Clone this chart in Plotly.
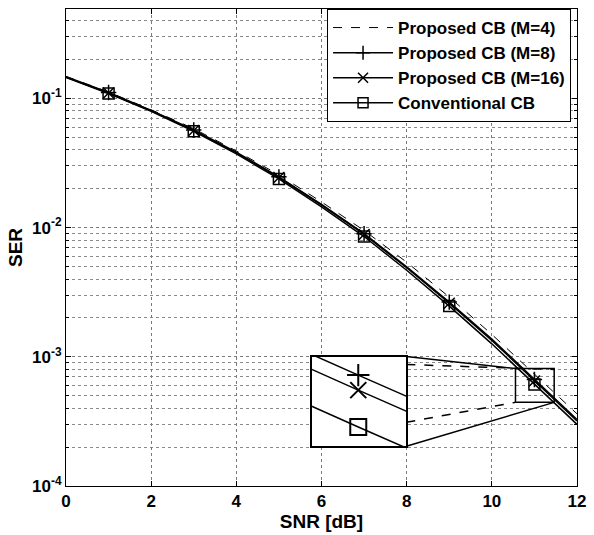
import plotly.graph_objects as go

# ---------------- data ----------------
snr = [0, 1, 2, 3, 4, 5, 6, 7, 8, 9, 10, 11, 12]
snr_markers = [1, 3, 5, 7, 9, 11]

ser_m4 = [0.148, 0.112, 0.0817, 0.0583, 0.0392, 0.0256, 0.0158, 0.0095, 0.0054, 0.00290, 0.00149, 7.3e-4, 3.62e-4]
ser_m8 = [0.147, 0.111, 0.0808, 0.0570, 0.0383, 0.0247, 0.0151, 0.00898, 0.00497, 0.00265, 0.00137, 6.67e-4, 3.27e-4]
ser_m16 = [0.146, 0.110, 0.0802, 0.0565, 0.0379, 0.0244, 0.0149, 0.00885, 0.00489, 0.00260, 0.00134, 6.50e-4, 3.19e-4]
ser_conv = [0.145, 0.109, 0.0794, 0.0557, 0.0372, 0.0238, 0.01445, 0.00853, 0.00468, 0.00247, 0.00126, 6.10e-4, 3.00e-4]

names = ["Proposed CB (M=4)", "Proposed CB (M=8)", "Proposed CB (M=16)", "Conventional CB"]
y_tick_vals = [1e-4, 1e-3, 1e-2, 1e-1]
y_tick_text = ["10<sup>-4</sup>", "10<sup>-3</sup>", "10<sup>-2</sup>", "10<sup>-1</sup>"]
x_tick_vals = [0, 2, 4, 6, 8, 10, 12]

# ---------------- styling ----------------
FONT = "Liberation Sans, Arial, sans-serif"
series = [
    (names[0], ser_m4, "dash", None),
    (names[1], ser_m8, "solid", "cross-thin-open"),
    (names[2], ser_m16, "solid", "x-thin-open"),
    (names[3], ser_conv, "solid", "square-open"),
]

fig = go.Figure()


def pick(xs, ys, keep):
    return [y for x, y in zip(xs, ys) if x in keep]


for name, ys, dash, sym in series:
    width = 1 if dash == "dash" else 1.5
    fig.add_trace(go.Scatter(x=snr, y=ys, mode="lines", showlegend=False,
                             line=dict(color="black", width=width, dash=dash),
                             xaxis="x", yaxis="y"))
    if sym:
        fig.add_trace(go.Scatter(x=snr_markers, y=pick(snr, ys, snr_markers), mode="markers",
                                 showlegend=False,
                                 marker=dict(symbol=sym, size=11, color="black",
                                             line=dict(color="black", width=1.5)),
                                 xaxis="x", yaxis="y"))
    fig.add_trace(go.Scatter(x=[None], y=[None], name=name,
                             mode="lines+markers" if sym else "lines",
                             line=dict(color="black", width=width, dash=dash),
                             marker=dict(symbol=sym or "circle", size=10, color="black",
                                         line=dict(color="black", width=1.5)),
                             xaxis="x", yaxis="y"))

# inset (magnified view around SNR = 11 dB)
for name, ys, dash, sym in series[1:]:
    fig.add_trace(go.Scatter(x=snr, y=ys, mode="lines", showlegend=False,
                             line=dict(color="black", width=1.5),
                             xaxis="x2", yaxis="y2"))
    fig.add_trace(go.Scatter(x=snr_markers, y=pick(snr, ys, snr_markers), mode="markers",
                             showlegend=False,
                             marker=dict(symbol=sym, size=16, color="black",
                                         line=dict(color="black", width=2)),
                             xaxis="x2", yaxis="y2"))

# ---------------- layout ----------------
L, R, T, B = 66, 13, 8, 48
W, H = 594, 535
PW, PH = W - L - R, H - T - B


def px(xp):
    return (xp - L) / PW


def py(yp):
    return (H - B - yp) / PH


minor_vals = [m * 10.0 ** e for e in range(-4, 0) for m in range(2, 10)]
tickfont = dict(family=FONT, size=17, color="black", weight="bold")
titlefont = dict(family=FONT, size=19, color="black", weight="bold")

inset_x = [px(314), px(409)]
inset_y = [py(447), py(357)]

fig.update_layout(
    width=W, height=H,
    margin=dict(l=L, r=R, t=T, b=B),
    paper_bgcolor="white", plot_bgcolor="white",
    font=dict(family=FONT, color="black"),
    xaxis=dict(range=[0, 12], tickvals=x_tick_vals, tickfont=tickfont,
               showgrid=True, gridcolor="#7a7a7a", griddash="dot", gridwidth=1,
               showline=True, linecolor="black", linewidth=1, mirror="allticks",
               ticks="inside", ticklen=5, tickcolor="black", zeroline=False,
               title=dict(text="SNR [dB]", font=titlefont, standoff=2)),
    yaxis=dict(type="log", range=[-4, -0.308], tickvals=y_tick_vals, ticktext=y_tick_text,
               tickfont=tickfont,
               showgrid=True, gridcolor="#7a7a7a", griddash="dot", gridwidth=1,
               minor=dict(tickvals=minor_vals, showgrid=True, gridcolor="#8a8a8a",
                          griddash="dot", gridwidth=1, ticks="inside", ticklen=3, tickcolor="black"),
               showline=True, linecolor="black", linewidth=1, mirror="allticks",
               ticks="inside", ticklen=5, tickcolor="black", zeroline=False,
               title=dict(text="SER", font=titlefont, standoff=4)),
    xaxis2=dict(domain=inset_x, anchor="y2", range=[10.951, 11.051],
                showgrid=False, showticklabels=False, ticks="", zeroline=False,
                showline=True, linecolor="black", linewidth=1.5, mirror=True),
    yaxis2=dict(domain=inset_y, anchor="x2", type="log", range=[-3.229, -3.162],
                showgrid=False, showticklabels=False, ticks="", zeroline=False,
                showline=True, linecolor="black", linewidth=1.5, mirror=True),
    legend=dict(x=px(575), xanchor="right", y=1.0, yanchor="top",
                bgcolor="white", bordercolor="black", borderwidth=1,
                font=dict(family=FONT, size=17, color="black", weight="bold"),
                tracegroupgap=0, itemwidth=60),
    showlegend=True,
)

shapes = [
    dict(type="rect", xref="x2 domain", yref="y2 domain", x0=0, x1=1, y0=0, y1=1,
         fillcolor="white", line=dict(width=0), layer="below"),
    dict(type="rect", xref="paper", yref="paper", x0=px(519), x1=px(558), y0=py(403), y1=py(369),
         line=dict(color="black", width=1.5)),
    dict(type="line", xref="paper", yref="paper", x0=px(409), y0=py(357), x1=px(519), y1=py(369),
         line=dict(color="black", width=1.5)),
    dict(type="line", xref="paper", yref="paper", x0=px(409), y0=py(365), x1=px(558), y1=py(370),
         line=dict(color="black", width=1.5, dash="dash")),
    dict(type="line", xref="paper", yref="paper", x0=px(409), y0=py(423), x1=px(519), y1=py(403),
         line=dict(color="black", width=1.5, dash="dash")),
    dict(type="line", xref="paper", yref="paper", x0=px(409), y0=py(447), x1=px(558), y1=py(403),
         line=dict(color="black", width=1.5)),
]
fig.update_layout(shapes=shapes)

fig.write_html("out.html", config={"displayModeBar": False},
               post_script="document.body.style.margin='0';")
